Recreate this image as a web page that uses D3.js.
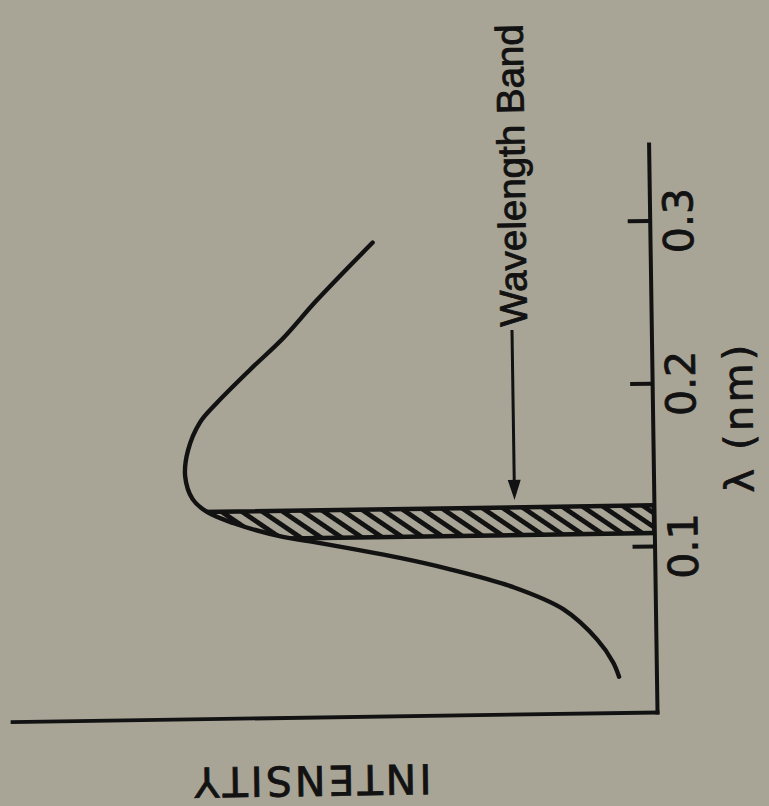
<!DOCTYPE html>
<html><head><meta charset="utf-8">
<script src="https://cdn.jsdelivr.net/npm/d3@7"></script>
<style>
html,body{margin:0;padding:0;background:#a8a496;}
svg{display:block;}
</style></head>
<body>
<svg id="chart" width="769" height="806"></svg>
<script>
// ---- data ----
const wavelength = [0.020, 0.029, 0.043, 0.062, 0.076, 0.088, 0.095, 0.106, 0.109, 0.118, 0.125, 0.133, 0.147, 0.163, 0.180, 0.192, 0.212, 0.231, 0.254, 0.289];
const intensity  = [5.8, 6.7, 9.1, 14.3, 22.0, 32.2, 39.5, 53.4, 57.6, 65.3, 69.3, 71.5, 72.6, 72.1, 70.2, 67.5, 62.3, 57.1, 51.8, 43.0];
const lambdaTicks = [0.1, 0.2, 0.3];
const tickLabels = ["0.1", "0.2", "0.3"];
const bandLow = 0.108, bandHigh = 0.125;
const arrowIntensity = 21.6, arrowFrom = 0.234, arrowTo = 0.1296;
const bandLabelLambda = 0.236;
const xLabel = "λ (nm)", yLabel = "INTENSITY", bandLabel = "Wavelength Band";

const data = wavelength.map((l, i) => ({l, v: intensity[i]}));
const ink = "#121212", bg = "#a8a496";

const svg = d3.select("#chart");
const yL = d3.scaleLinear().domain([-0.002, 0.347]).range([712, 144]);
const xI = d3.scaleLinear().domain([0, 100]).range([657, 12]);

const defs = svg.append("defs");
const pat = defs.append("pattern").attr("id", "hatch")
  .attr("patternUnits", "userSpaceOnUse").attr("width", 11.5).attr("height", 11.5)
  .attr("patternTransform", "rotate(-55)");
pat.append("rect").attr("width", 11.5).attr("height", 11.5).attr("fill", bg);
pat.append("rect").attr("width", 4.8).attr("height", 11.5).attr("fill", ink);

const crv = d3.curveCatmullRom.alpha(0.5);
const area = d3.area().y(d => yL(d.l)).x0(xI(0)).x1(d => xI(d.v)).curve(crv);
defs.append("clipPath").attr("id", "under").append("path").attr("d", area(data));

const g = svg.append("g").attr("transform", "rotate(-0.85,657,712)");

// hatched wavelength band
g.append("rect")
  .attr("x", xI(90)).attr("y", yL(bandHigh))
  .attr("width", xI(0) - xI(90)).attr("height", yL(bandLow) - yL(bandHigh))
  .attr("fill", "url(#hatch)").attr("stroke", ink).attr("stroke-width", 4.5)
  .attr("clip-path", "url(#under)");

// spectrum curve
const line = d3.line().x(d => xI(d.v)).y(d => yL(d.l)).curve(crv);
g.append("path").attr("d", line(data)).attr("fill", "none")
  .attr("stroke", ink).attr("stroke-width", 4.4).attr("stroke-linecap", "round");

// intensity axis (horizontal, no ticks)
const ax = g.append("g").attr("transform", "translate(0,712)")
  .call(d3.axisBottom(xI).tickValues([]).tickSizeOuter(0));
ax.select(".domain").attr("stroke", ink).attr("stroke-width", 3.8).attr("stroke-linecap", "square");

// wavelength axis (vertical)
const ay = g.append("g").attr("transform", "translate(657,0)")
  .call(d3.axisRight(yL).tickValues(lambdaTicks).tickFormat((d, i) => tickLabels[i]).tickSize(-22).tickSizeOuter(0));
ay.select(".domain").attr("stroke", ink).attr("stroke-width", 4).attr("stroke-linecap", "square");
ay.selectAll(".tick line").attr("stroke", ink).attr("stroke-width", 4);
ay.selectAll(".tick text")
  .attr("transform", "rotate(-90)").attr("x", 0).attr("y", 43).attr("dy", 0)
  .attr("text-anchor", "middle").attr("fill", ink)
  .attr("stroke", ink).attr("stroke-width", 0.8)
  .attr("font-family", "DejaVu Sans").attr("font-size", 41);

// axis titles
g.append("text").attr("transform", `translate(757,420) rotate(-90)`)
  .attr("text-anchor", "middle").attr("font-family", "DejaVu Sans").attr("font-size", 40)
  .attr("textLength", 148).attr("lengthAdjust", "spacing")
  .attr("fill", ink).attr("stroke", ink).attr("stroke-width", 0.8).text(xLabel);

g.append("text").attr("transform", `translate(312,761) rotate(180)`)
  .attr("text-anchor", "middle").attr("font-family", "DejaVu Sans").attr("font-size", 41)
  .attr("textLength", 237).attr("lengthAdjust", "spacing")
  .attr("fill", ink).attr("stroke", ink).attr("stroke-width", 0.8).text(yLabel);

// band annotation with arrow
const ax0 = xI(arrowIntensity);
g.append("line").attr("x1", ax0).attr("x2", ax0)
  .attr("y1", yL(arrowFrom)).attr("y2", yL(arrowTo) - 14)
  .attr("stroke", ink).attr("stroke-width", 3);
const tip = yL(arrowTo);
g.append("path").attr("d", `M${ax0},${tip}L${ax0 - 6.5},${tip - 20}L${ax0 + 6.5},${tip - 20}Z`)
  .attr("fill", ink);
g.append("text").attr("transform", `translate(${ax0 + 15},${yL(bandLabelLambda)}) rotate(-90)`)
  .attr("text-anchor", "start").attr("font-family", "Liberation Sans, Arial, sans-serif").attr("font-size", 38.5)
  .attr("fill", ink).attr("stroke", ink).attr("stroke-width", 0.9).text(bandLabel);
</script>
</body></html>
